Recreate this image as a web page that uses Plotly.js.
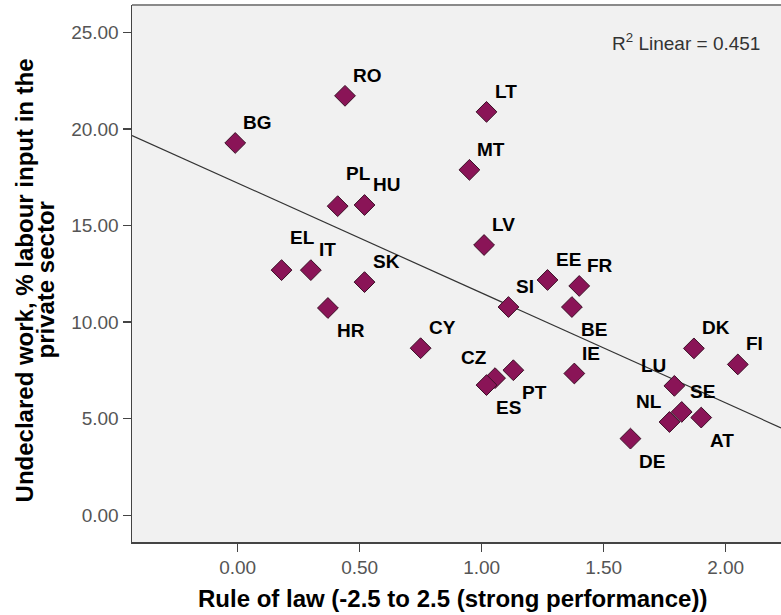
<!DOCTYPE html>
<html>
<head>
<meta charset="utf-8">
<script src="https://cdn.plot.ly/plotly-3.0.1.min.js"></script>
<style>html,body{margin:0;padding:0;background:#fff;}#chart{width:781px;height:615px;}</style>
</head>
<body>
<div id="chart"></div>
<script>
// Data
var countries = ["BG","RO","PL","HU","EL","IT","SK","HR","LT","MT","LV","EE","FR","SI","BE","CY","CZ","ES","PT","IE","DK","FI","LU","SE","NL","AT","DE"];
var ruleOfLaw = [-0.01, 0.44, 0.41, 0.52, 0.18, 0.30, 0.52, 0.37, 1.02, 0.95, 1.01, 1.27, 1.40, 1.11, 1.37, 0.75, 1.055, 1.02, 1.13, 1.38, 1.87, 2.05, 1.79, 1.82, 1.77, 1.90, 1.61];
var undeclared = [19.27, 21.71, 16.0, 16.06, 12.69, 12.69, 12.07, 10.73, 20.88, 17.88, 13.99, 12.18, 11.87, 10.78, 10.78, 8.65, 7.10, 6.74, 7.51, 7.34, 8.64, 7.81, 6.70, 5.35, 4.83, 5.06, 3.97];
var labelPos = ["tr","tr","trh","tr","trh","tr","tr","br","tr","tr","tr","tr","tr","tr","br","tr","tl","br","br","tr","tr","tr","tl","tr","tl","br","br"];
var xTicks = [0, 0.5, 1.0, 1.5, 2.0];
var yTicks = [0, 5, 10, 15, 20, 25];
var rSquaredText = "R<sup>2</sup> Linear = 0.451";

var xRange = [-0.433, 2.227];
var yRange = [-1.38, 26.41];

// least squares fit
var n = ruleOfLaw.length, sx = 0, sy = 0, sxx = 0, sxy = 0;
for (var i = 0; i < n; i++) { sx += ruleOfLaw[i]; sy += undeclared[i]; sxx += ruleOfLaw[i]*ruleOfLaw[i]; sxy += ruleOfLaw[i]*undeclared[i]; }
var slope = (n*sxy - sx*sy) / (n*sxx - sx*sx);
var intercept = (sy - slope*sx) / n;
var fitX = [xRange[0], xRange[1]];
var fitY = fitX.map(function(v){ return intercept + slope*v; });

var fitTrace = {
  x: fitX, y: fitY, type: 'scatter', mode: 'lines',
  line: {color: '#333333', width: 1.2}, hoverinfo: 'skip'
};
var pointTrace = {
  x: ruleOfLaw, y: undeclared, type: 'scatter', mode: 'markers',
  marker: {symbol: 'diamond', size: 16, color: '#8a1457', line: {color: '#3b0f26', width: 1}},
  text: countries, cliponaxis: false
};

var labelFont = {family: 'Liberation Sans, Arial, sans-serif', size: 19, color: '#000'};
var annotations = countries.map(function(c, i){
  var p = labelPos[i];
  var a = {x: ruleOfLaw[i], y: undeclared[i], xref: 'x', yref: 'y', text: '<b>'+c+'</b>', showarrow: false,
           font: labelFont, borderpad: 0};
  if (p === 'tr' || p === 'trh') { a.xanchor = 'left'; a.yanchor = 'bottom'; a.xshift = 7; a.yshift = (p === 'trh' ? 21 : 9); }
  else if (p === 'br') { a.xanchor = 'left'; a.yanchor = 'top'; a.xshift = 8; a.yshift = -11; }
  else if (p === 'tl') { a.xanchor = 'right'; a.yanchor = 'bottom'; a.xshift = -7; a.yshift = 9; }
  return a;
});

var titleFont = {family: 'Liberation Sans, Arial, sans-serif', size: 24, color: '#000'};
annotations.push({xref: 'paper', yref: 'paper', x: 0.4938, y: -0.105, xanchor: 'center', yanchor: 'middle',
  text: '<b>Rule of law (-2.5 to 2.5 (strong performance))</b>', showarrow: false, font: titleFont});
annotations.push({xref: 'paper', yref: 'paper', x: -0.166, y: 0.4876, xanchor: 'center', yanchor: 'middle', textangle: -90,
  text: '<b>Undeclared work, % labour input in the</b>', showarrow: false, font: titleFont});
annotations.push({xref: 'paper', yref: 'paper', x: -0.1335, y: 0.4876, xanchor: 'center', yanchor: 'middle', textangle: -90,
  text: '<b>private sector</b>', showarrow: false, font: titleFont});
annotations.push({xref: 'paper', yref: 'paper', x: 0.9707, y: 0.931, xanchor: 'right', yanchor: 'middle',
  text: rSquaredText, showarrow: false, font: {family: 'Liberation Sans, Arial, sans-serif', size: 19, color: '#333'}});

var tickFont = {family: 'Liberation Sans, Arial, sans-serif', size: 19, color: '#555'};
var layout = {
  width: 781, height: 615,
  margin: {l: 132, r: 0, t: 5, b: 73},
  paper_bgcolor: '#ffffff', plot_bgcolor: '#f1f1f1',
  showlegend: false,
  xaxis: {range: xRange, tickvals: xTicks, ticktext: xTicks.map(function(v){return v.toFixed(2);}),
    showgrid: false, zeroline: false, showline: true, linecolor: '#444', linewidth: 1.5,
    ticks: 'outside', ticklen: 8, tickwidth: 1.5, tickcolor: '#444', tickfont: tickFont, ticklabelstandoff: 0},
  yaxis: {range: yRange, tickvals: yTicks, ticktext: yTicks.map(function(v){return v.toFixed(2);}),
    showgrid: false, zeroline: false, showline: true, linecolor: '#444', linewidth: 1.5,
    ticks: 'outside', ticklen: 8, tickwidth: 1.5, tickcolor: '#444', tickfont: tickFont, ticklabelstandoff: 0},
  shapes: [{type: 'line', xref: 'paper', yref: 'paper', x0: 0, x1: 1, y0: 1, y1: 1, line: {color: '#8a8a8a', width: 2}}],
  annotations: annotations
};

Plotly.newPlot('chart', [fitTrace, pointTrace], layout, {staticPlot: true, displayModeBar: false});
</script>
</body>
</html>
